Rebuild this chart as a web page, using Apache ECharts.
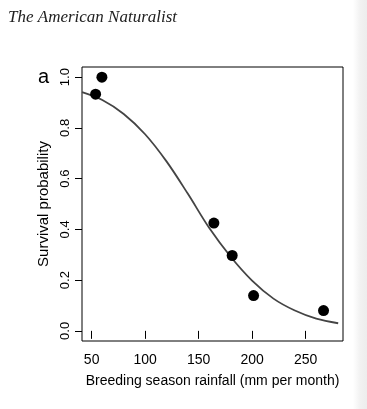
<!DOCTYPE html>
<html>
<head>
<meta charset="utf-8">
<style>
html,body{margin:0;padding:0;background:#fff;}
#c{width:367px;height:409px;}
</style>
<script src="https://cdn.jsdelivr.net/npm/echarts@6/dist/echarts.min.js"></script>
</head>
<body>
<div id="c"></div>
<script>
// Observed data points
var rainfall = [53.7, 59.6, 164.3, 181.4, 201.4, 266.8];
var survival = [0.933, 1.0, 0.425, 0.297, 0.139, 0.080];
// Fitted curve, points
var curveX = [41, 60, 80, 100, 120, 140, 160, 180, 200, 220, 240, 260, 280.5];
var curveY = [0.941, 0.910, 0.855, 0.775, 0.668, 0.540, 0.405, 0.292, 0.198, 0.127, 0.080, 0.048, 0.030];
// Tick labels
var xTicks = [50, 100, 150, 200, 250];
var yTicks = [0, 0.2, 0.4, 0.6, 0.8, 1.0];

var chart = echarts.init(document.getElementById('c'), null, {renderer: 'canvas'});
var pts = rainfall.map(function (x, i) { return [x, survival[i]]; });
var curve = curveX.map(function (x, i) { return [x, curveY[i]]; });
var FONT = 'Liberation Sans, Arial, Helvetica, sans-serif';

chart.setOption({
  animation: false,
  backgroundColor: '#ffffff',
  graphic: [
    {type: 'rect', left: 353, top: 0, shape: {width: 14, height: 409}, silent: true,
     style: {fill: new echarts.graphic.LinearGradient(0, 0, 1, 0, [{offset: 0, color: '#ffffff'}, {offset: 0.5, color: '#f2f2f2'}, {offset: 1, color: '#ededed'}])}, z: -10},
    {type: 'text', left: 8, top: 9, style: {text: 'The American Naturalist', font: 'italic 17px "Liberation Serif", "DejaVu Serif", serif', fill: '#222'}},
    {type: 'text', left: 38, top: 67, style: {text: 'a', font: '20px ' + FONT, fill: '#000'}}
  ],
  grid: {left: 82, top: 67, right: 24, bottom: 68, show: true, borderColor: '#000', borderWidth: 1, backgroundColor: 'transparent'},
  xAxis: {
    type: 'value', min: 41, max: 285,
    name: 'Breeding season rainfall (mm per month)', nameLocation: 'middle', nameGap: 33,
    nameTextStyle: {fontFamily: FONT, fontSize: 14, color: '#000'},
    axisLine: {show: false},
    splitLine: {show: false},
    axisTick: {show: true, length: 8, lineStyle: {color: '#000', width: 1}, customValues: xTicks},
    axisLabel: {fontFamily: FONT, fontSize: 14, color: '#000', margin: 12, customValues: xTicks}
  },
  yAxis: {
    type: 'value', min: -0.04, max: 1.04,
    name: 'Survival probability', nameLocation: 'middle', nameGap: 29,
    nameTextStyle: {fontFamily: FONT, fontSize: 15, color: '#000'},
    axisLine: {show: false},
    splitLine: {show: false},
    axisTick: {show: true, length: 7, lineStyle: {color: '#000', width: 1}, customValues: yTicks},
    axisLabel: {fontFamily: FONT, fontSize: 13, color: '#000', margin: 10, rotate: 90,
      customValues: yTicks, formatter: function (v) { return v.toFixed(1); }}
  },
  series: [
    {type: 'line', data: curve, smooth: 0.35, showSymbol: false, symbol: 'none',
     lineStyle: {color: '#444', width: 1.8}, z: 2},
    {type: 'scatter', data: pts, symbol: 'circle', symbolSize: 11,
     itemStyle: {color: '#000', opacity: 1}, z: 3}
  ]
});
</script>
</body>
</html>
